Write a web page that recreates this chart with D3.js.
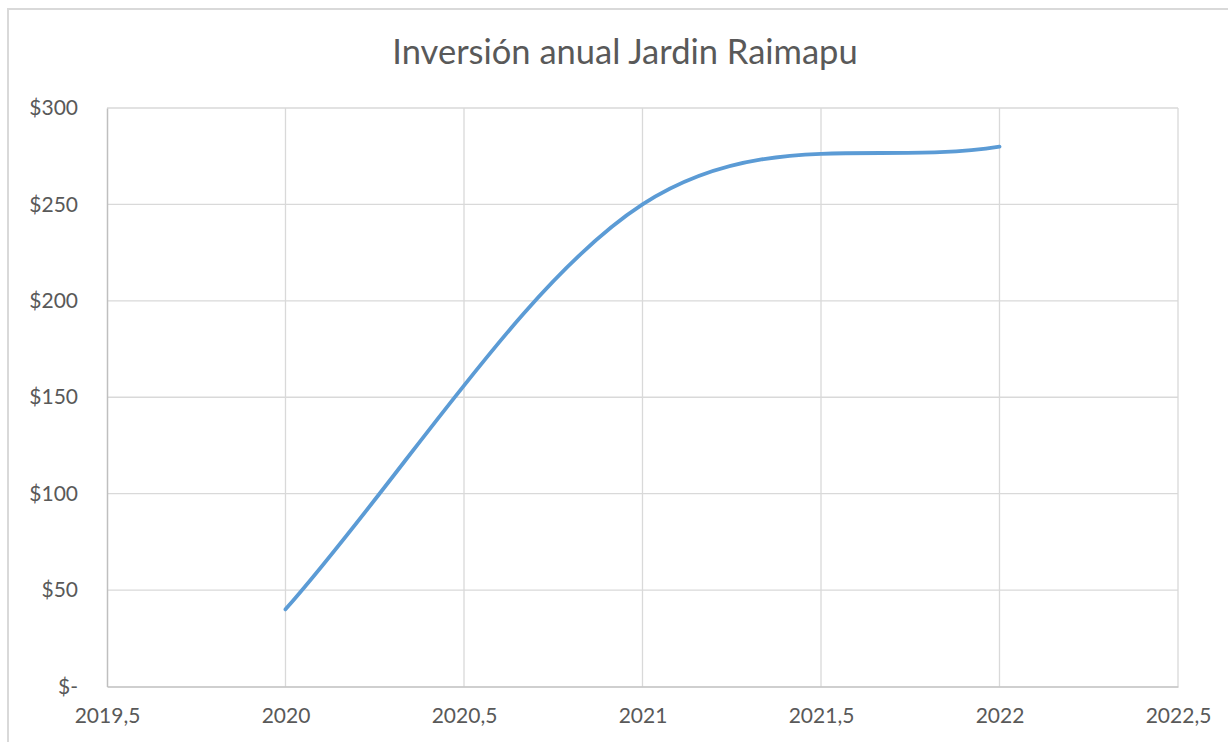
<!DOCTYPE html>
<html>
<head>
<meta charset="utf-8">
<script src="https://cdn.jsdelivr.net/npm/d3@7"></script>
<style>
  html, body { margin: 0; padding: 0; background: #ffffff; }
  svg { display: block; }
</style>
</head>
<body>
<svg id="chart" width="1228" height="742"></svg>
<script>
// Annual investment series
const title = "Inversión anual Jardin Raimapu";
const years = [2020, 2021, 2022];
const investment = [40, 250, 280];

// Axis ticks
const xTicks = [2019.5, 2020, 2020.5, 2021, 2021.5, 2022, 2022.5];
const yTicks = [0, 50, 100, 150, 200, 250, 300];

const W = 1228, H = 742;
const plot = { left: 107, right: 1178, top: 108, bottom: 686.5 };

const svg = d3.select("#chart");
const font = "Lato, 'Liberation Sans', sans-serif";
const textColor = "#595959";

// Chart frame
svg.append("rect")
  .attr("x", 8).attr("y", 9)
  .attr("width", W + 20).attr("height", H + 20)
  .attr("fill", "#ffffff")
  .attr("stroke", "#d9d9d9")
  .attr("stroke-width", 2);

const x = d3.scaleLinear().domain([2019.5, 2022.5]).range([plot.left, plot.right]);
const y = d3.scaleLinear().domain([0, 300]).range([plot.bottom, plot.top]);

// Gridlines
const grid = svg.append("g").attr("stroke", "#d9d9d9").attr("stroke-width", 1.3);
grid.selectAll("line.h").data(yTicks.filter(d => d > 0)).join("line")
  .attr("class", "h")
  .attr("x1", plot.left).attr("x2", plot.right)
  .attr("y1", d => y(d)).attr("y2", d => y(d));
grid.selectAll("line.v").data(xTicks.filter(d => d > 2019.5)).join("line")
  .attr("class", "v")
  .attr("x1", d => x(d)).attr("x2", d => x(d))
  .attr("y1", plot.top).attr("y2", plot.bottom);

// Y axis
const fmtY = d => d === 0 ? "$-" : "$" + d3.format("d")(d);
const yAxis = svg.append("g")
  .attr("transform", `translate(${plot.left},0)`)
  .call(d3.axisLeft(y).tickValues(yTicks).tickSize(0).tickPadding(29).tickFormat(fmtY));
yAxis.select(".domain").attr("stroke", "#bfbfbf").attr("stroke-width", 1.5);
yAxis.selectAll("text")
  .attr("fill", textColor)
  .style("font-family", font)
  .style("font-size", "21px");

// X axis
const fmtX = d => Number.isInteger(d) ? String(d) : String(d).replace(".", ",");
const xAxis = svg.append("g")
  .attr("transform", `translate(0,${plot.bottom})`)
  .call(d3.axisBottom(x).tickValues(xTicks).tickSize(0).tickPadding(22).tickFormat(fmtX));
xAxis.select(".domain").attr("stroke", "#bfbfbf").attr("stroke-width", 1.5);
xAxis.selectAll("text")
  .attr("fill", textColor)
  .style("font-family", font)
  .style("font-size", "21px");

// Smoothed line: cubic Bezier segments, control points at 1/6 of the
// neighbour span, with reflected phantom points at both ends
const pts = years.map((yr, i) => [x(yr), y(investment[i])]);
const path = d3.path();
const n = pts.length;
const at = i => {
  if (i < 0) return [2 * pts[0][0] - pts[1][0], 2 * pts[0][1] - pts[1][1]];
  if (i >= n) return [2 * pts[n - 1][0] - pts[n - 2][0], 2 * pts[n - 1][1] - pts[n - 2][1]];
  return pts[i];
};
path.moveTo(pts[0][0], pts[0][1]);
for (let i = 0; i < n - 1; i++) {
  const p0 = at(i - 1), p1 = at(i), p2 = at(i + 1), p3 = at(i + 2);
  const c1 = [p1[0] + (p2[0] - p0[0]) / 6, p1[1] + (p2[1] - p0[1]) / 6];
  const c2 = [p2[0] - (p3[0] - p1[0]) / 6, p2[1] - (p3[1] - p1[1]) / 6];
  path.bezierCurveTo(c1[0], c1[1], c2[0], c2[1], p2[0], p2[1]);
}
svg.append("path")
  .attr("d", path.toString())
  .attr("fill", "none")
  .attr("stroke", "#5b9bd5")
  .attr("stroke-width", 3.8)
  .attr("stroke-linecap", "round")
  .attr("stroke-linejoin", "round");

// Title
svg.append("text")
  .attr("x", 625)
  .attr("y", 64)
  .attr("text-anchor", "middle")
  .attr("fill", textColor)
  .style("font-family", font)
  .style("font-size", "34.5px")
  .text(title);
</script>
</body>
</html>
